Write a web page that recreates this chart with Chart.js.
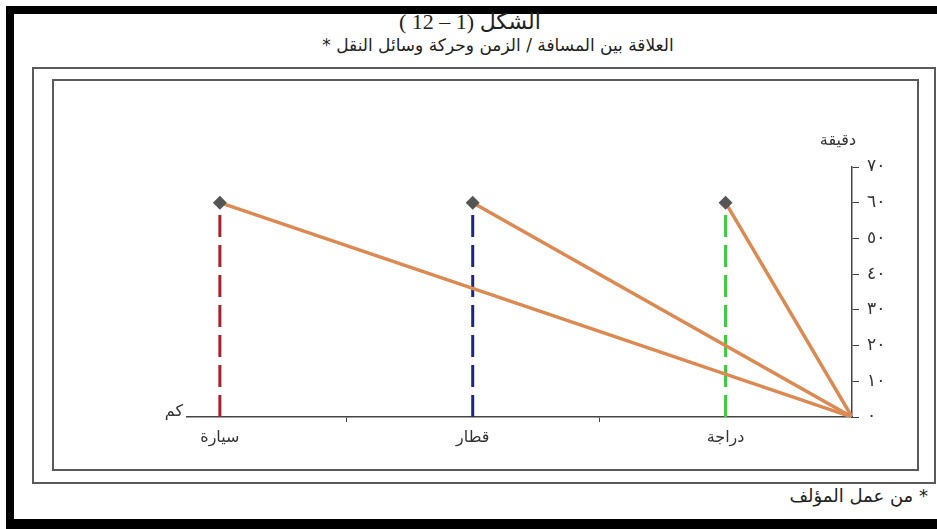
<!DOCTYPE html>
<html lang="ar">
<head>
    <meta charset="UTF-8">
    <title>الشكل (1 - 12)</title>
    <script src="https://cdn.jsdelivr.net/npm/chart.js@4.4.0/dist/chart.umd.min.js"></script>
    <style>
        body { margin: 0; background: #fff; width: 937px; height: 529px; position: relative; overflow: hidden; }
        .band { position: absolute; background: #000; }
        .frame { position: absolute; border: 2.5px solid #5a5a5a; box-sizing: border-box; }
        #title1 { position: absolute; left: 0; width: 940px; top: 10px; text-align: center;
                  font: 22px "Liberation Serif", "DejaVu Sans", serif; color: #222; line-height: 24px; }
        #title2 { position: absolute; left: 0; width: 996px; top: 35px; text-align: center;
                  font: 17px "DejaVu Sans", sans-serif; color: #222; }
        #note { position: absolute; right: 9px; top: 485px;
                font: 18px "DejaVu Sans", sans-serif; color: #222; }
        #chartBox { position: absolute; left: 55px; top: 82px; width: 861px; height: 386px; }
    </style>
</head>
<body>
<div class="band" style="left:6px; top:6px; width:931px; height:8px;"></div>
<div class="band" style="left:6px; top:6px; width:8px; height:523px;"></div>
<div class="band" style="left:6px; top:519px; width:931px; height:10px;"></div>

<div id="title1" dir="ltr">( 12 – 1) الشكل</div>
<div id="title2" dir="rtl">العلاقة بين المسافة / الزمن وحركة وسائل النقل *</div>

<div class="frame" style="left:32px; top:67px; width:904px; height:417px;"></div>
<div class="frame" style="left:52px; top:79px; width:867px; height:392px;"></div>

<div id="chartBox"><canvas id="myChart" width="861" height="386"></canvas></div>

<div id="note" dir="rtl">* من عمل المؤلف</div>

<script>
    // transport modes, their place on the distance axis and the time (minutes)
    const modes = ['دراجة', 'قطار', 'سيارة'];
    const modeX = [1, 3, 5];
    const minutes = [60, 60, 60];
    const modeColors = ['#3ccb3c', '#1c2688', '#a5222b'];
    const xTickMarks = [2, 4];
    const xMax = 5.26;
    const yMax = 70;
    const yStep = 10;
    const xUnit = 'كم';
    const yUnit = 'دقيقة';

    const arabicDigits = ['٠', '١', '٢', '٣', '٤', '٥', '٦', '٧', '٨', '٩'];
    function toArabic(n) {
        return String(n).split('').map(d => arabicDigits[+d] ?? d).join('');
    }

    const datasets = [];
    modes.forEach((m, i) => {
        datasets.push({
            label: m,
            data: [{x: modeX[i], y: 0}, {x: modeX[i], y: minutes[i]}],
            borderColor: modeColors[i],
            borderWidth: 3,
            borderDash: [22, 8],
            pointRadius: 0,
            order: 2
        });
        datasets.push({
            label: m + ' (السرعة)',
            data: [{x: 0, y: 0}, {x: modeX[i], y: minutes[i]}],
            borderColor: '#dc8a52',
            borderWidth: 3.5,
            pointRadius: [0, 4.5],
            pointStyle: 'rectRot',
            pointBackgroundColor: '#555',
            pointBorderColor: '#555',
            order: 1
        });
    });

    const unitLabels = {
        id: 'unitLabels',
        afterDraw(chart) {
            const c = chart.ctx;
            const xs = chart.scales.x, ys = chart.scales.y;
            c.save();
            c.fillStyle = '#333';
            c.font = '16px "DejaVu Sans", sans-serif';
            c.textBaseline = 'middle';
            c.textAlign = 'center';
            c.fillText(yUnit, ys.left - 14, ys.getPixelForValue(yMax) - 26);
            c.textAlign = 'right';
            c.fillText(xUnit, xs.left - 4, xs.top - 5);
            c.restore();
        }
    };

    new Chart(document.getElementById('myChart').getContext('2d'), {
        type: 'line',
        data: { datasets: datasets },
        plugins: [unitLabels],
        options: {
            responsive: false,
            animation: false,
            layout: { padding: { left: 132, top: 85, right: 0, bottom: 0 } },
            plugins: { legend: { display: false }, tooltip: { enabled: false } },
            elements: { line: { tension: 0 } },
            scales: {
                x: {
                    type: 'linear',
                    reverse: true,
                    min: 0,
                    max: xMax,
                    afterFit: s => { s.height = 51; },
                    afterBuildTicks: s => {
                        s.ticks = modeX.concat(xTickMarks).sort().map(v => ({ value: v }));
                    },
                    border: { color: '#444', width: 1.5 },
                    grid: {
                        drawOnChartArea: false,
                        tickLength: 5,
                        tickColor: ctx => (ctx.tick && modeX.includes(ctx.tick.value)) ? 'rgba(0,0,0,0)' : '#444'
                    },
                    ticks: {
                        autoSkip: false,
                        maxRotation: 0,
                        padding: 6,
                        color: '#333',
                        font: { family: 'DejaVu Sans', size: 16 },
                        callback: v => {
                            const i = modeX.indexOf(v);
                            return i >= 0 ? modes[i] : '';
                        }
                    }
                },
                y: {
                    position: 'right',
                    min: 0,
                    max: yMax,
                    afterFit: s => { s.width = 64; },
                    border: { color: '#444', width: 1.5 },
                    grid: { drawOnChartArea: false, tickLength: 7, tickColor: '#444' },
                    ticks: {
                        stepSize: yStep,
                        padding: 8,
                        color: '#333',
                        font: { family: 'DejaVu Sans', size: 17 },
                        callback: v => toArabic(v)
                    }
                }
            }
        }
    });
</script>
</body>
</html>
